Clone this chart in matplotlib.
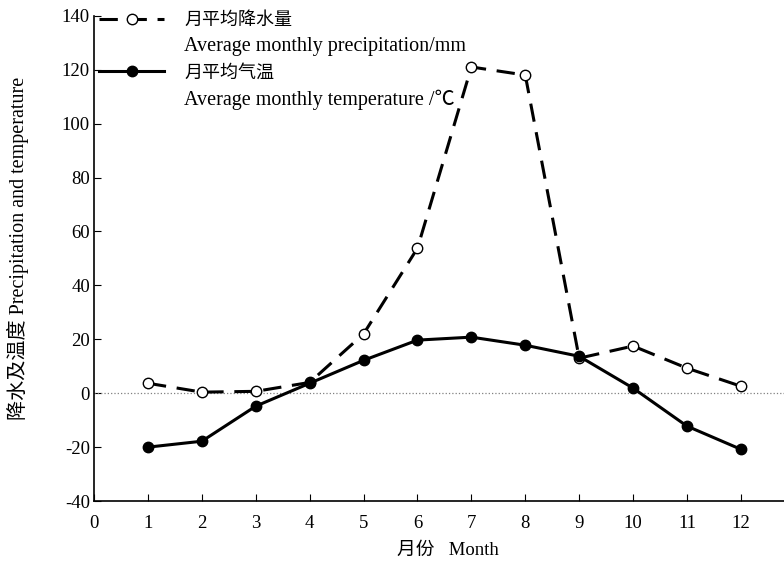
import matplotlib.pyplot as plt
import numpy as np

plt.rcParams['font.family'] = ['Liberation Serif', 'Noto Sans CJK SC']
plt.rcParams['axes.unicode_minus'] = False

# monthly data
months = np.arange(1, 13)
precip = [3.7, 0.4, 0.7, 4.0, 22.0, 53.8, 121.0, 118.0, 13.0, 17.5, 9.3, 2.6]
temp = [-20.0, -17.8, -4.8, 3.7, 12.2, 19.7, 20.8, 17.8, 13.7, 1.9, -12.2, -20.8]

xticks = np.arange(0, 13)
yticks = np.arange(-40, 141, 20)

fig = plt.figure(figsize=(7.84, 5.63), dpi=100)
ax = fig.add_axes([0.12, 0.11, 0.88, 0.862])

# zero reference line
ax.axhline(0, color='grey', linestyle=':', linewidth=0.9)

lp, = ax.plot(months, precip, color='black', linestyle=(0, (6, 3.5)), linewidth=2.2,
              marker='o', markersize=7.5, markerfacecolor='white',
              markeredgecolor='black', markeredgewidth=1.0)
lt, = ax.plot(months, temp, color='black', linestyle='-', linewidth=2.2,
              marker='o', markersize=7.5, markerfacecolor='black',
              markeredgecolor='black')

ax.set_xlim(0, 12.8)
ax.set_ylim(-40, 140)
ax.set_xticks(xticks)
ax.set_yticks(yticks)
ax.tick_params(direction='in', length=5, labelsize=13.5)
ax.tick_params(axis='x', pad=10)
ax.tick_params(axis='y', pad=3)

ax.spines['top'].set_visible(False)
ax.spines['right'].set_visible(False)
ax.spines['left'].set_linewidth(1.2)
ax.spines['bottom'].set_linewidth(1.2)

ax.set_xlabel('月份   Month', fontsize=13.5)
ax.xaxis.set_label_coords(0.513, -0.085)
ax.set_ylabel('降水及温度 Precipitation and temperature', fontsize=14.5)
ax.yaxis.set_label_coords(-0.095, 0.52)

blank = plt.Line2D([], [], linestyle='none')
leg = ax.legend([lp, blank, lt, blank],
                ['月平均降水量', 'Average monthly precipitation/mm',
                 '月平均气温', 'Average monthly temperature /℃'],
                loc='upper left', bbox_to_anchor=(-0.003, 1.022), frameon=False,
                fontsize=13, handlelength=3.6, handletextpad=1.1,
                labelspacing=0.45, borderaxespad=0)
for t in leg.get_texts()[1::2]:
    t.set_fontsize(14.5)

fig.savefig('out.png', dpi=100)
